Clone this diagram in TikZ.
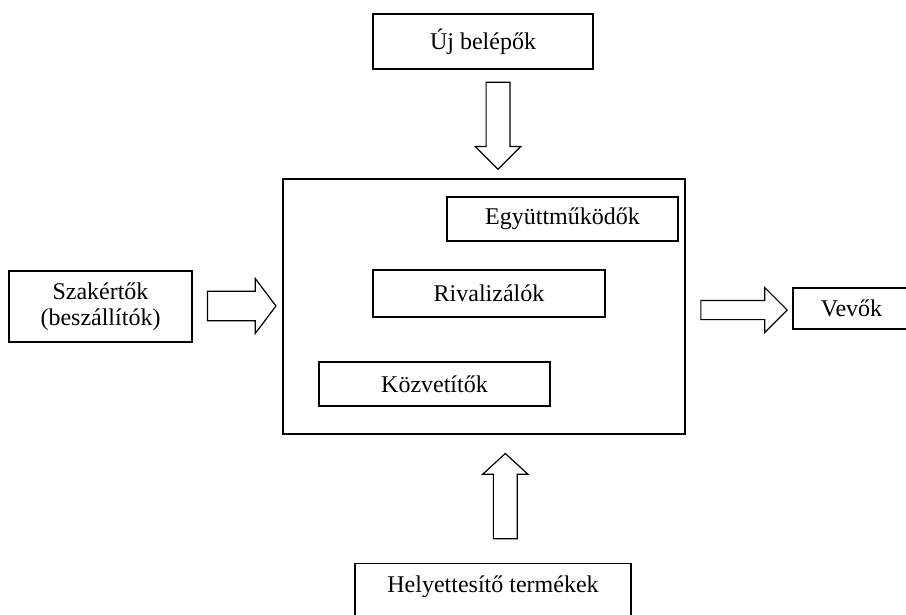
\documentclass[tikz,border=0pt]{standalone}
\usepackage{fontspec}
\setmainfont{Liberation Serif}
\usetikzlibrary{shapes.arrows}

\begin{document}
\begin{tikzpicture}[x=1pt, y=-1pt, line width=1.4pt,
  box/.style={rectangle, draw, inner sep=0pt, font=\fontsize{24}{26}\selectfont},
  blockarrow/.style={single arrow, draw, line width=1.2pt, inner sep=0pt, minimum width=0pt, text depth=0pt}]
  \useasboundingbox (0,0) rectangle (906,614);
  % market and its players
  \node[box, minimum width=402, minimum height=255] (piac) at (484,306.5) {};
  \node[box, minimum width=231, minimum height=44] (egyutt) at (562.5,219) {Együttműködők};
  \node[box, minimum width=232, minimum height=47] (rival) at (489,293.5) {Rivalizálók};
  \node[box, minimum width=231, minimum height=44] (kozvet) at (434.5,384) {Közvetítők};
  % forces around it
  \node[box, minimum width=220, minimum height=55] (uj) at (483,41.5) {Új belépők};
  \node[box, minimum width=183, minimum height=71, align=center] (szak) at (100.5,306.5) {Szakértők\\(beszállítók)};
  \node[box, minimum width=117, minimum height=41] (vevo) at (851.5,308.5) {Vevők};
  \node[box, minimum width=276, text height=28.5pt, text depth=40pt, anchor=north] (helyet) at (493,563) {Helyettesítő termékek};
  % block arrows
  \node[blockarrow, text height=22.6pt, single arrow head extend=10.7pt, minimum height=87, rotate=-90, anchor=tip] (be) at (498,170) {};
  \node[blockarrow, text height=28.3pt, single arrow head extend=12.7pt, single arrow tip angle=106, minimum height=68.4, anchor=tip] (szall) at (276.7,306) {};
  \node[blockarrow, text height=18pt, single arrow head extend=12.8pt, minimum height=86.3, anchor=tip] (elad) at (788,310) {};
  \node[blockarrow, text height=22.7pt, single arrow head extend=10.6pt, single arrow tip angle=95, minimum height=85.3, rotate=90, anchor=tip] (helyettes) at (505.3,452.7) {};
\end{tikzpicture}
\end{document}
